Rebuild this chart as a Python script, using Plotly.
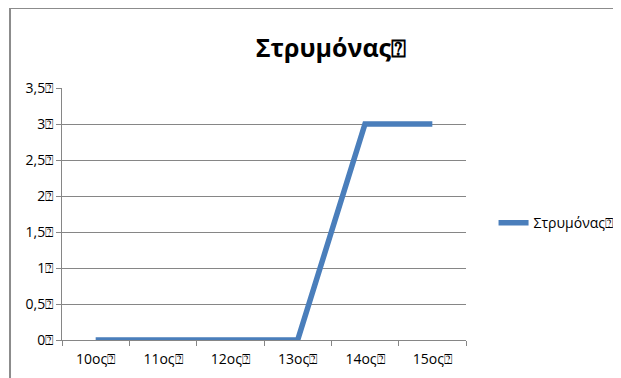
import plotly.graph_objects as go

Q = "\u2370"
categories = ["10ος", "11ος", "12ος", "13ος", "14ος", "15ος"]
values = [0, 0, 0, 0, 3, 3]
y_ticks = [0, 0.5, 1, 1.5, 2, 2.5, 3, 3.5]
y_labels = ["0", "0,5", "1", "1,5", "2", "2,5", "3", "3,5"]
series_name = "Στρυμόνας"

font = "Open Sans, DejaVu Sans, sans-serif"

fig = go.Figure()
fig.add_trace(go.Scatter(
    x=[c + Q for c in categories],
    y=values,
    mode="lines",
    name=series_name + Q,
    line=dict(color="#4A7EBB", width=5.5),
))

# page body adds an 8px margin, so the figure is a bit smaller than the window
fig.update_layout(
    width=613, height=370,
    margin=dict(l=54, r=0, t=80, b=38),
    paper_bgcolor="white",
    plot_bgcolor="white",
    font=dict(family=font, size=14, color="#000000"),
    title=dict(text="<b>" + series_name + Q + "</b>", x=0.481, xanchor="center",
               xref="paper", y=0.892, yanchor="middle", font=dict(size=25, family=font)),
    showlegend=True,
    legend=dict(x=0.772, y=0.464, xanchor="left", yanchor="middle",
                font=dict(size=14), itemwidth=30, bgcolor="rgba(0,0,0,0)"),
    shapes=[dict(type="rect", xref="paper", yref="paper",
                 x0=-0.093, x1=2, y0=-1, y1=1.3175,
                 line=dict(color="#8C8C8C", width=2), layer="below")],
)

fig.update_xaxes(
    type="category", range=[-0.5, 5.5], domain=[0, 404 / 559],
    showline=True, linecolor="#868686", linewidth=1,
    ticks="outside", tickson="boundaries", ticklen=5, tickcolor="#868686",
    showgrid=False, tickfont=dict(size=14), ticklabelstandoff=6,
)
fig.update_yaxes(
    range=[0, 3.5], tickvals=y_ticks, ticktext=[t + Q for t in y_labels],
    showline=True, linecolor="#868686", linewidth=1,
    ticks="outside", ticklen=5, tickcolor="#868686",
    showgrid=True, gridcolor="#868686", gridwidth=1, zeroline=False,
    tickfont=dict(size=14),
)

fig.write_html("out.html")
